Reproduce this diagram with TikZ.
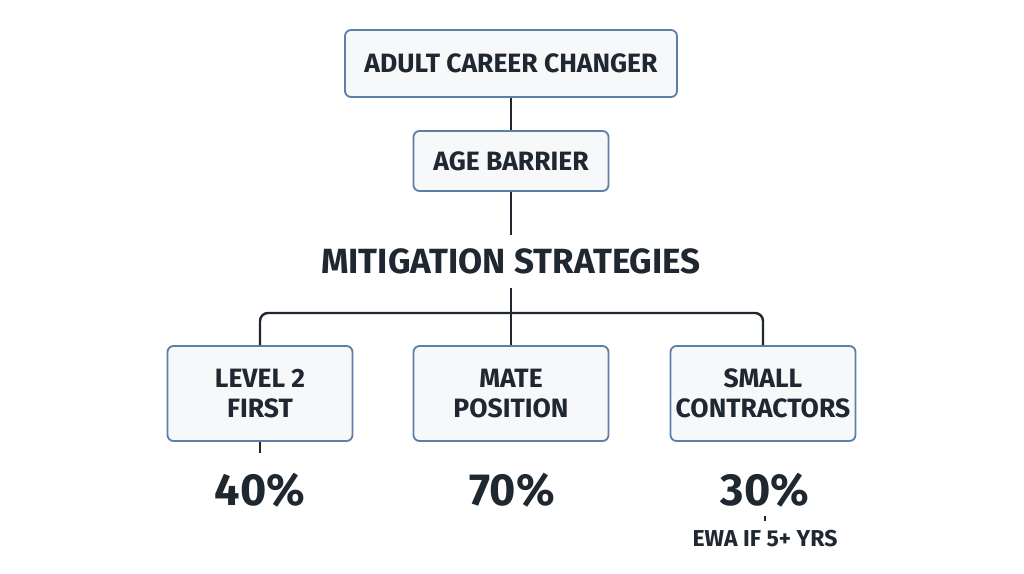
\documentclass[tikz,border=0pt]{standalone}
\usepackage{fontspec}
\setmainfont{Fira Sans}
\usetikzlibrary{positioning}
\definecolor{boxline}{HTML}{5B7FA6}
\definecolor{boxfill}{HTML}{F7F8FA}
\definecolor{ink}{HTML}{1F2730}
\begin{document}
\begin{tikzpicture}[
    x=1pt, y=-1pt,
    box/.style = { draw=boxline,fill=boxfill,line width=1.8pt,rounded corners=6pt,
                   text=ink,font=\fontsize{26.5}{30}\selectfont\bfseries,align=center },
    title/.style = { text=ink,font=\fontsize{35}{38}\selectfont\bfseries,
                     text height=23pt,text depth=0pt,inner ysep=15pt },
    share/.style = { text=ink,font=\fontsize{45}{50}\selectfont\bfseries,
                     text height=34pt,text depth=0pt },
    note/.style  = { text=ink,font=\fontsize{23}{26}\selectfont\bfseries,
                     text height=17pt,text depth=0pt,inner ysep=8pt },
    link/.style  = { draw=ink,line width=2.4pt },
    tick/.style  = { draw=ink,line width=1.4pt }
    ]
    \useasboundingbox[fill=white] (0,0) rectangle (1024,573);
    % Definitions
    \coordinate (top)   at (511,63.5);
    \coordinate (age)   at (511,161);
    \coordinate (mit)   at (511,261.5);
    \coordinate (lvl)   at (260,393.5);
    \coordinate (mate)  at (511,393.5);
    \coordinate (small) at (763,393.5);
    \coordinate (fork)  at (511,313);
    \coordinate (stub)  at (260,453);
    \coordinate (mark)  at (765,516);
    % Nodes
    \node(AC) at (top)   [box,minimum width=332pt,minimum height=67pt] {ADULT CAREER CHANGER};
    \node(AB) at (age)   [box,minimum width=195pt,minimum height=60pt] {AGE BARRIER};
    \node(MS) at (mit)   [title]                                         {MITIGATION STRATEGIES};
    \node(L2) at (lvl)   [box,minimum width=185pt,minimum height=95pt] {LEVEL 2\\FIRST};
    \node(MP) at (mate)  [box,minimum width=195pt,minimum height=95pt] {MATE\\POSITION};
    \node(SC) at (small) [box,minimum width=185pt,minimum height=95pt] {SMALL\\CONTRACTORS};
    \node(P40) at (260,488) [share] {40\%};
    \node(P70) at (512,488) [share] {70\%};
    \node(P30) at (765,488) [share] {30\%};
    \node(EW)  at (765,538) [note]  {EWA IF 5+ YRS};
    % Lines
    \draw[link] (AC)       -- (AB);
    \draw[link] (AB)       -- (MS);
    \draw[link] (MS)       -- (MP);
    \draw[link,rounded corners=8pt] (L2.north) |- (fork) -| (SC.north);
    \draw[link] (L2.south) -- (stub);
    \draw[tick] (mark)     -- (EW.north);
\end{tikzpicture}
\end{document}
